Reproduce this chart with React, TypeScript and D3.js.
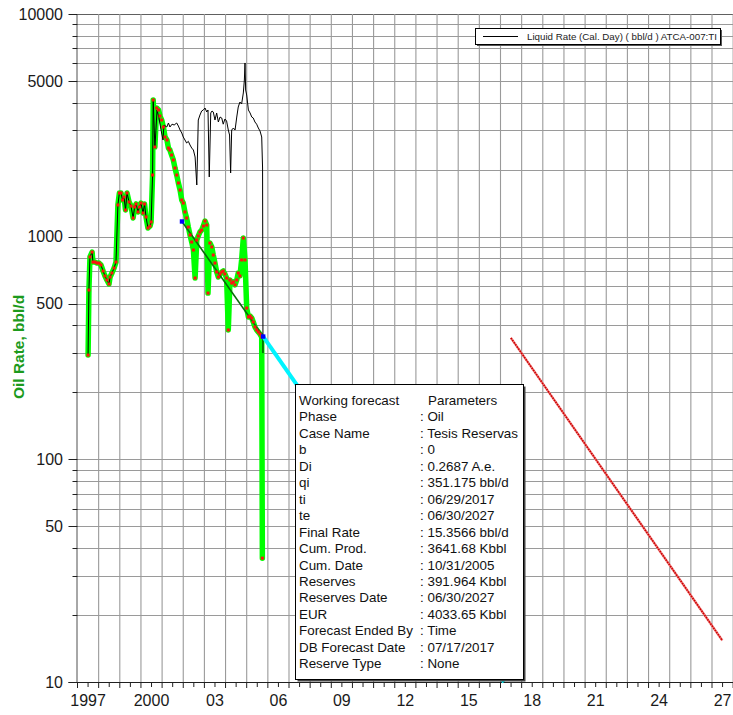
import React from "react";
import * as d3 from "d3";

// ---- Data ----
const oilDates = [
  1997.50, 1997.54, 1997.59, 1997.69, 1997.73, 1997.83, 1997.92, 1998.02, 1998.11, 1998.21,
  1998.30, 1998.39, 1998.49, 1998.54, 1998.63, 1998.73, 1998.82, 1998.91, 1998.98, 1999.06,
  1999.13, 1999.20, 1999.27, 1999.34, 1999.44, 1999.53, 1999.63, 1999.70, 1999.77, 1999.86,
  1999.93, 2000.00, 2000.10, 2000.17, 2000.24, 2000.33, 2000.43, 2000.48, 2000.55, 2000.58,
  2000.66, 2000.74, 2000.83, 2000.90, 2000.98, 2001.06, 2001.14, 2001.23, 2001.30, 2001.37,
  2001.45, 2001.53, 2001.61, 2001.69, 2001.77, 2001.85, 2001.93, 2002.00, 2002.08, 2002.16,
  2002.24, 2002.32, 2002.40, 2002.48, 2002.56, 2002.64, 2002.71, 2002.79, 2002.87, 2002.95,
  2003.03, 2003.11, 2003.17, 2003.26, 2003.35, 2003.42, 2003.50, 2003.58, 2003.66, 2003.74,
  2003.82, 2003.89, 2003.97, 2004.05, 2004.13, 2004.21, 2004.29, 2004.37, 2004.45, 2004.53,
  2004.60, 2004.68, 2004.76, 2004.84, 2004.92, 2005.00, 2005.08, 2005.16, 2005.24, 2005.31,
  2005.39, 2005.47, 2005.55, 2005.63, 2005.71, 2005.74,
];
const oilRates = [
  294, 576, 811, 853, 769, 769, 761, 761, 746, 701,
  666, 639, 613, 659, 687, 723, 769, 1388, 1571, 1571,
  1461, 1507, 1317, 1571, 1431, 1373, 1213, 1359, 1402, 1291,
  1359, 1416, 1277, 1402, 1226, 1094, 1116, 1164, 1892, 4109,
  2527, 3783, 3706, 3483, 3341, 3108, 2803, 2718, 2501, 2450,
  2326, 2210, 2034, 1892, 1742, 1620, 1461, 1416, 1291, 1213,
  1105, 1017, 946, 871, 652, 966, 1007, 1049, 1071, 1116,
  1176, 1128, 558, 936, 899, 827, 761, 694, 659, 680,
  694, 701, 680, 652, 381, 639, 619, 626, 607, 639,
  687, 666, 786, 986, 786, 478, 436, 440, 431, 414,
  393, 381, 373, 365, 354, 36,
];

// liquid rate equals oil rate until the 2000 peak, then:
const liquidLateDates = [
  2000.66, 2000.76, 2000.85, 2000.95, 2001.04, 2001.09, 2001.22, 2001.30, 2001.37, 2001.47,
  2001.57, 2001.69, 2001.77, 2001.85, 2001.93, 2002.00, 2002.08, 2002.16, 2002.24, 2002.32,
  2002.40, 2002.48, 2002.56, 2002.64, 2002.71, 2002.79, 2002.87, 2002.95, 2003.03, 2003.11,
  2003.17, 2003.23, 2003.30, 2003.36, 2003.42, 2003.50, 2003.58, 2003.66, 2003.74, 2003.82,
  2003.89, 2003.97, 2004.05, 2004.13, 2004.19, 2004.24, 2004.29, 2004.37, 2004.45, 2004.53,
  2004.60, 2004.68, 2004.76, 2004.84, 2004.89, 2004.92, 2004.95, 2005.00, 2005.08, 2005.16,
  2005.24, 2005.31, 2005.39, 2005.47, 2005.55, 2005.63, 2005.71, 2005.75, 2005.77,
];
const liquidLateRates = [
  2501, 3706, 3420, 3013, 2718, 3173, 3108, 3240, 3108, 3200,
  3173, 3240, 3140, 3013, 2922, 2803, 2718, 2634, 2680, 2580,
  2501, 2450, 2279, 1706, 3341, 3518, 3667, 3706, 3783, 3630,
  3706, 1854, 3593, 3667, 3630, 3341, 3593, 3273, 3446, 3411,
  3200, 3376, 3307, 3013, 2861, 1932, 3013, 3076, 3013, 3446,
  3822, 4024, 3943, 4418, 5053, 6026, 4557, 4327, 3706, 3593,
  3446, 3411, 3273, 3200, 3076, 2982, 2803, 2034, 300,
];
const liquidSplitDate = 2000.58;

const fitDates = [2001.94, 2005.78];
const fitRates = [1170, 356];
const cyanDates = [2005.78, 2017.17];
const cyanRates = [356, 10];
const forecastDates = [2017.49, 2027.49];
const forecastRates = [351.175, 15.3566];

const yearLabels = ["1997", "2000", "03", "06", "09", "12", "15", "18", "21", "24", "27"];
const yearLabelYears = [1997, 2000, 2003, 2006, 2009, 2012, 2015, 2018, 2021, 2024, 2027];
const yLabelValues = [10, 50, 100, 500, 1000, 5000, 10000];

const legendLabel = "Liquid Rate (Cal. Day) ( bbl/d ) ATCA-007:TI";
const infoKeys = [
  "Working forecast", "Phase", "Case Name", "b", "Di", "qi", "ti", "te", "Final Rate",
  "Cum. Prod.", "Cum. Date", "Reserves", "Reserves Date", "EUR", "Forecast Ended By",
  "DB Forecast Date", "Reserve Type",
];
const infoValues = [
  "Parameters", ": Oil", ": Tesis Reservas", ": 0", ": 0.2687 A.e.", ": 351.175 bbl/d",
  ": 06/29/2017", ": 06/30/2027", ": 15.3566 bbl/d", ": 3641.68 Kbbl", ": 10/31/2005",
  ": 391.964 Kbbl", ": 06/30/2027", ": 4033.65 Kbbl", ": Time", ": 07/17/2017", ": None",
];

const FONT = "'Liberation Sans', Arial, sans-serif";

export default function App() {
  const W = 733, H = 715;
  const left = 77.5, right = 733.15, top = 14, bottom = 682;
  const x = d3.scaleLinear().domain([1997, 2028]).range([left, right]);
  const y = d3.scaleLog().domain([10, 10000]).range([bottom, top]);

  const oil = oilDates.map((d, i) => [d, oilRates[i]] as [number, number]);
  const liquid = [
    ...oil.filter((p) => p[0] <= liquidSplitDate),
    ...liquidLateDates.map((d, i) => [d, liquidLateRates[i]] as [number, number]),
  ];
  const fit = fitDates.map((d, i) => [d, fitRates[i]] as [number, number]);
  const cyan = cyanDates.map((d, i) => [d, cyanRates[i]] as [number, number]);
  const fc = forecastDates.map((d, i) => [d, forecastRates[i]] as [number, number]);

  const line = d3.line<[number, number]>().x((p) => x(p[0])).y((p) => y(p[1]));

  const hGrid: number[] = [];
  [10, 100, 1000].forEach((dec) => {
    for (let m = 1; m <= 9; m++) hGrid.push(dec * m);
  });
  hGrid.push(10000);
  const vGrid = d3.range(1998, 2029);
  const halfTicks = d3.range(1997, 2028.01, 0.5);

  const boxX = 295.5, boxY = 384.5, boxW = 228, boxH = 295;
  const lineH = 16.45;

  return (
    <svg width={W} height={H} style={{ position: "absolute", left: 0, top: 0, background: "#fff" }}>
      <rect x={0} y={0} width={W} height={H} fill="#fff" />
      {/* grid */}
      {hGrid.map((v) => (
        <line key={"h" + v} x1={left} x2={W} y1={Math.round(y(v)) + 0.5} y2={Math.round(y(v)) + 0.5}
          stroke={v === 10000 ? "#606060" : "#9a9a9a"} strokeWidth={1} />
      ))}
      {vGrid.map((v) => (
        <line key={"v" + v} x1={x(v)} x2={x(v)} y1={top} y2={bottom} stroke="#9a9a9a" strokeWidth={1.1} />
      ))}
      {/* axes */}
      <line x1={left - 0.5} x2={left - 0.5} y1={top} y2={bottom + 0.5} stroke="#505050" strokeWidth={1} />
      <line x1={left - 9} x2={W} y1={bottom + 0.5} y2={bottom + 0.5} stroke="#202020" strokeWidth={1} />
      {hGrid.map((v) => {
        const major = yLabelValues.includes(v);
        return (
          <line key={"yt" + v} x1={left - (major ? 9 : 5)} x2={left} y1={Math.round(y(v)) + 0.5}
            y2={Math.round(y(v)) + 0.5} stroke="#202020" strokeWidth={1} />
        );
      })}
      {halfTicks.map((t) => (
        <line key={"xt" + t} x1={x(t)} x2={x(t)} y1={bottom} y2={bottom + (t % 1 === 0 ? 6 : 5)}
          stroke="#202020" strokeWidth={1} />
      ))}
      {yLabelValues.map((v) => (
        <text key={"yl" + v} x={63} y={y(v)} dy="0.36em" textAnchor="end" fontFamily={FONT}
          fontSize={16} fill="#1a1a1a">{v}</text>
      ))}
      {yearLabels.map((l, i) => (
        <text key={"xl" + l} x={x(yearLabelYears[i] + 0.5)} y={706} textAnchor="middle"
          fontFamily={FONT} fontSize={16} fill="#1a1a1a">{l}</text>
      ))}
      <text transform={`translate(24, 347) rotate(-90)`} textAnchor="middle" fontFamily={FONT}
        fontSize={15.5} fontWeight="bold" fill="#1c9a1c">Oil Rate, bbl/d</text>

      {/* data */}
      <path d={line(oil) || ""} fill="none" stroke="#00ff00" strokeWidth={5.5} strokeLinejoin="round" strokeLinecap="round" />
      <path d={line(liquid) || ""} fill="none" stroke="#000" strokeWidth={1} />
      <path d={line(fit) || ""} fill="none" stroke="#0a6a0a" strokeWidth={1.6} />
      {oil.map((p, i) => (
        <rect key={"rd" + i} x={x(p[0]) - 1.5} y={y(p[1]) - 1.5} width={3} height={3} fill="#ff1010" />
      ))}
      <path d={line(cyan) || ""} fill="none" stroke="#00f4ff" strokeWidth={4} />
      {fit.map((p, i) => (
        <rect key={"bd" + i} x={x(p[0]) - 2.2} y={y(p[1]) - 2.2} width={4.4} height={4.4} fill="#0000ff" />
      ))}
      <path d={line(fc) || ""} fill="none" stroke="#f08080" strokeWidth={2.4} />
      <path d={line(fc) || ""} fill="none" stroke="#cc0000" strokeWidth={1.6} strokeDasharray="1.6 1" />

      {/* legend */}
      <rect x={477} y={30} width={245} height={16} fill="#555" />
      <rect x={475.5} y={28.5} width={245} height={16} fill="#fff" stroke="#000" strokeWidth={1} />
      <line x1={483} x2={518} y1={36.5} y2={36.5} stroke="#000" strokeWidth={1} />
      <text x={527} y={39.5} fontFamily={FONT} fontSize={9.2} fill="#222" textLength={190}
        lengthAdjust="spacingAndGlyphs">{legendLabel}</text>

      {/* info box */}
      <rect x={boxX + 2} y={boxY + 2} width={boxW} height={boxH} fill="#444" />
      <rect x={boxX} y={boxY} width={boxW} height={boxH} fill="#fff" stroke="#000" strokeWidth={1} />
      {infoKeys.map((k, i) => (
        <text key={"ik" + i} x={299} y={405 + i * lineH} fontFamily={FONT} fontSize={13.4} fill="#111">{k}</text>
      ))}
      {infoValues.map((v, i) => (
        <text key={"iv" + i} x={i === 0 ? 428 : 420} y={405 + i * lineH} fontFamily={FONT} fontSize={13.4} fill="#111">{v}</text>
      ))}
    </svg>
  );
}
